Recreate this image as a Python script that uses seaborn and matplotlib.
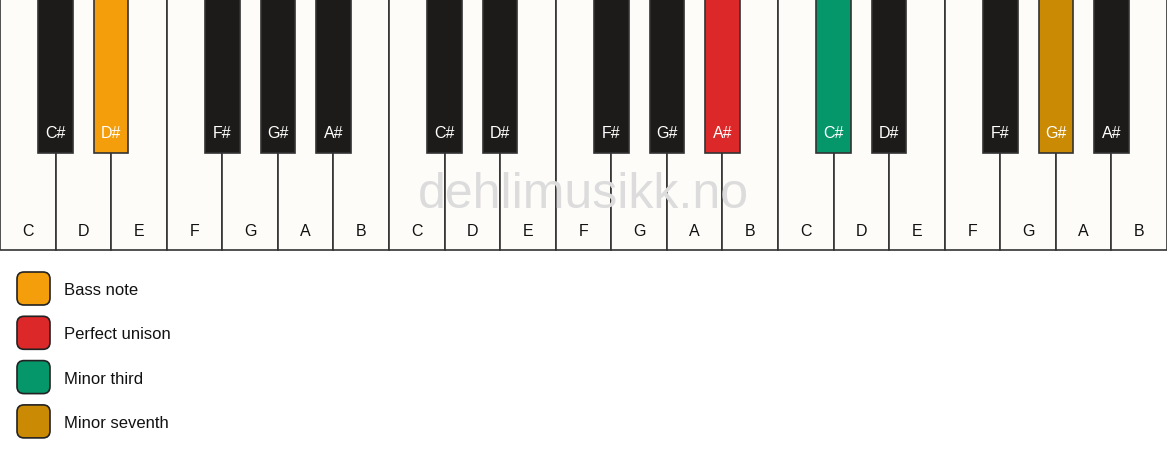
import matplotlib
matplotlib.use("Agg")
import matplotlib.pyplot as plt
from matplotlib.patches import FancyBboxPatch
import seaborn as sns

sns.set_theme(style="white")
plt.rcParams['font.family'] = ['Liberation Sans', 'DejaVu Sans']
plt.rcParams['text.kerning_factor'] = 0

# ---- data ----
white_names = ["C", "D", "E", "F", "G", "A", "B"]
black_names = ["C#", "D#", "F#", "G#", "A#"]
black_after = [0, 1, 3, 4, 5]          # white key index (within octave) left of each black key
n_octaves = 3
# highlighted keys: (octave, note name) -> colour role
highlight_keys = [(0, "D#"), (1, "A#"), (2, "C#"), (2, "G#")]
highlight_roles = ["Bass note", "Perfect unison", "Minor third", "Minor seventh"]
legend_labels = ["Bass note", "Perfect unison", "Minor third", "Minor seventh"]
legend_colors = ["#F59E0B", "#DC2828", "#059669", "#CA8A04"]

W, H = 1167, 461
WHITE_FILL = "#FDFCF9"
BLACK_FILL = "#1C1B19"
EDGE = "#333333"

fig = plt.figure(figsize=(W / 100, H / 100), dpi=100)
fig.patch.set_facecolor("white")
ax = fig.add_axes([0, 0, 1, 1])
ax.set_xlim(0, W)
ax.set_ylim(H, 0)
ax.axis("off")

n_white = 7 * n_octaves
kw = W / n_white
kb_h = 249.5
bk_w = 34.5
bk_h = 153

# white keys
wx = [i * kw for i in range(n_white)]
ax.bar(wx, [kb_h + 2] * n_white, width=kw, bottom=-2, align="edge",
       color=WHITE_FILL, edgecolor=EDGE, linewidth=1.2, zorder=1)
for i in range(n_white):
    ax.text(wx[i] + kw / 2, 231, white_names[i % 7], ha="center", va="center",
            fontsize=11.5, color="#111111", zorder=5)

# watermark
ax.text(W / 2, 208, "dehlimusikk.no", ha="center", va="baseline", fontsize=36,
        color="#DCDCDC", zorder=2)

# black keys
role_color = dict(zip(legend_labels, legend_colors))
hl = {k: role_color[r] for k, r in zip(highlight_keys, highlight_roles)}
bx, bcol, blab = [], [], []
for o in range(n_octaves):
    for name, after in zip(black_names, black_after):
        bx.append((o * 7 + after + 1) * kw)
        bcol.append(hl.get((o, name), BLACK_FILL))
        blab.append(name)
ax.bar(bx, [bk_h + 2] * len(bx), width=bk_w, bottom=-2, align="center",
       color=bcol, edgecolor=EDGE, linewidth=1.2, zorder=3)
for x, lab in zip(bx, blab):
    ax.text(x, 133, lab, ha="center", va="center", fontsize=11.5,
            color="white", zorder=5)

# legend
for j, (lab, col) in enumerate(zip(legend_labels, legend_colors)):
    y0 = 272 + j * 44.3
    box = FancyBboxPatch((17, y0), 33, 33, boxstyle="round,pad=0,rounding_size=7",
                         facecolor=col, edgecolor="#222222", linewidth=1.2, zorder=4)
    ax.add_patch(box)
    ax.text(64, y0 + 18.5, lab, ha="left", va="center", fontsize=12,
            color="#111111", zorder=5)

fig.savefig("out.png", dpi=100, facecolor="white")
